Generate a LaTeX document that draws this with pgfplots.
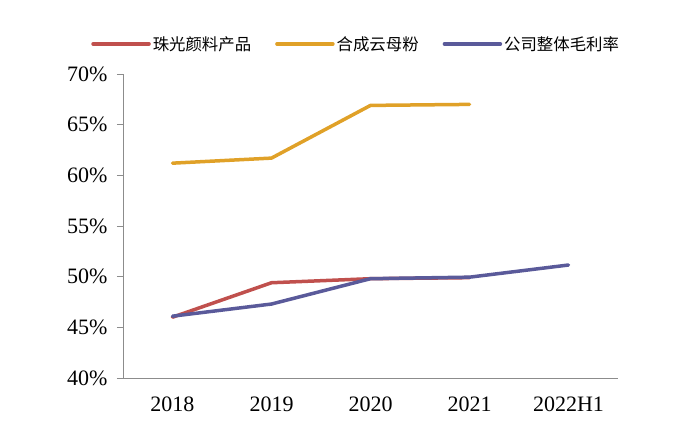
\documentclass[border=0pt]{standalone}
\usepackage{fontspec}
\setmainfont{Liberation Serif}
\newfontfamily\cjk{Noto Sans CJK SC}
\usepackage{pgfplots}
\pgfplotsset{compat=1.18}
\definecolor{cRed}{HTML}{C0504D}
\definecolor{cGold}{HTML}{E0A128}
\definecolor{cBlue}{HTML}{5A5A9A}
\definecolor{axisgray}{HTML}{8C8C8C}

\begin{document}
\begin{tikzpicture}
\begin{axis}[
  scale only axis,
  width=495pt, height=304pt,
  xmin=-0.5, xmax=4.5,
  ymin=40, ymax=70,
  ytick={40,45,...,70},
  xtick={0,1,2,3,4},
  xticklabels={2018,2019,2020,2021,2022H1},
  axis x line*=bottom,
  axis y line*=left,
  axis line style={axisgray, line width=0.8pt},
  x axis line style={-},
  y axis line style={-},
  tick align=outside,
  major tick length=6pt,
  ytick style={axisgray, line width=0.8pt},
  xtick style={draw=none},
  yticklabel={\pgfmathprintnumber{\tick}\%},
  /pgf/number format/assume math mode=true,
  tick label style={font=\fontsize{22}{25}\selectfont},
  yticklabel style={xshift=-6pt},
  xticklabel style={yshift=-9pt},
  legend style={draw=none, fill=none, at={(0.471,1.099)}, anchor=center,
    font=\cjk\fontsize{16.4}{18}\selectfont,
    /tikz/every even column/.append style={column sep=22pt}},
  legend columns=3,
  legend image code/.code={\draw[#1, line width=3.5pt, line cap=round] (0pt,0pt) -- (56pt,0pt);},
  every axis plot/.append style={line width=3.5pt, line cap=round, line join=round},
]
\addplot[cRed] coordinates {(0,46.0) (1,49.4) (2,49.8) (3,49.9)};
\addlegendentry{珠光颜料产品}
\addplot[cGold] coordinates {(0,61.2) (1,61.7) (2,66.9) (3,67.0)};
\addlegendentry{合成云母粉}
\addplot[cBlue] coordinates {(0,46.1) (1,47.3) (2,49.8) (3,49.95) (4,51.15)};
\addlegendentry{公司整体毛利率}
\end{axis}
\path[use as bounding box] ([xshift=-123pt,yshift=-51pt]current axis.south west) rectangle ([xshift=74pt,yshift=74pt]current axis.north east);
\end{tikzpicture}
\end{document}
